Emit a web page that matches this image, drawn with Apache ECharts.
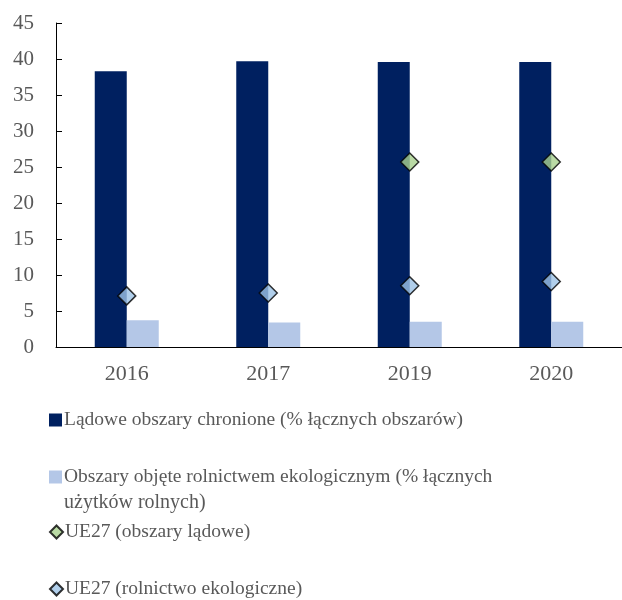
<!DOCTYPE html>
<html>
<head>
<meta charset="utf-8">
<script src="https://cdn.jsdelivr.net/npm/echarts@6/dist/echarts.min.js"></script>
<style>
  html, body { margin: 0; padding: 0; background: #fff; }
  #chart { width: 622px; height: 600px; }
</style>
</head>
<body>
<div id="chart"></div>
<script>
var years = ['2016', '2017', '2019', '2020'];
var chronione = [38.3, 39.7, 39.6, 39.6];
var ekologiczne = [3.7, 3.4, 3.5, 3.5];
var ueLadowe = ['-', '-', 25.7, 25.7];
var ueEko = [7.1, 7.5, 8.5, 9.1];
var yTicks = [0, 45, 5];

var names = [
  'Lądowe obszary chronione (% łącznych obszarów)',
  'Obszary objęte rolnictwem ekologicznym (% łącznych użytków rolnych)',
  'UE27 (obszary lądowe)',
  'UE27 (rolnictwo ekologiczne)'
];

var font = 'Liberation Serif';
var grey = '#595959';

var chart = echarts.init(document.getElementById('chart'));

function legendAt(name, top, icon) {
  return {
    data: [name],
    left: 49,
    top: top,
    padding: 0,
    icon: icon,
    itemWidth: 13,
    itemHeight: 13,
    itemGap: 0,
    selectedMode: false,
    formatter: function (n) {
      // second line of the long label is drawn separately
      return n.replace(' użytków rolnych)', '');
    },
    textStyle: { fontFamily: font, fontSize: 19.5, color: grey, padding: [0, 0, 0, -3] }
  };
}

var option = {
  backgroundColor: '#ffffff',
  animation: false,
  grid: { left: 56, right: 0, top: 23, bottom: 253, containLabel: false },
  legend: [
    legendAt(names[0], 410, 'rect'),
    legendAt(names[1], 467, 'rect'),
    legendAt(names[2], 522, 'diamond'),
    legendAt(names[3], 579, 'diamond')
  ],
  graphic: [{
    type: 'text',
    left: 64,
    top: 493,
    style: { text: 'użytków rolnych)', font: '20px "Liberation Serif"', fill: grey }
  }],
  xAxis: {
    type: 'category',
    data: years,
    axisLine: { lineStyle: { color: '#000', width: 1 } },
    axisTick: { inside: true, length: 7, lineStyle: { color: '#000' } },
    axisLabel: { fontFamily: font, fontSize: 22, color: grey, margin: 16 }
  },
  yAxis: {
    type: 'value',
    min: yTicks[0],
    max: yTicks[1],
    interval: yTicks[2],
    axisLine: { show: true, lineStyle: { color: '#000', width: 1 } },
    axisTick: { show: true, inside: true, length: 6, lineStyle: { color: '#000' } },
    splitLine: { show: false },
    axisLabel: { fontFamily: font, fontSize: 21, color: grey, margin: 22 }
  },
  series: [
    {
      name: names[0],
      type: 'bar',
      data: chronione,
      barWidth: 32,
      barGap: '0%',
      itemStyle: { color: '#002060' }
    },
    {
      name: names[1],
      type: 'bar',
      data: ekologiczne,
      barWidth: 32,
      itemStyle: { color: '#B4C7E7' }
    },
    {
      name: names[2],
      type: 'scatter',
      data: ueLadowe,
      symbol: 'diamond',
      symbolSize: 18,
      itemStyle: { color: '#A9D18E', borderColor: '#000', borderWidth: 1.5 },
      z: 5
    },
    {
      name: names[3],
      type: 'scatter',
      data: ueEko,
      symbol: 'diamond',
      symbolSize: 18,
      itemStyle: { color: '#9DC3E6', borderColor: '#000', borderWidth: 1.5 },
      z: 5
    }
  ]
};

chart.setOption(option);
</script>
</body>
</html>
